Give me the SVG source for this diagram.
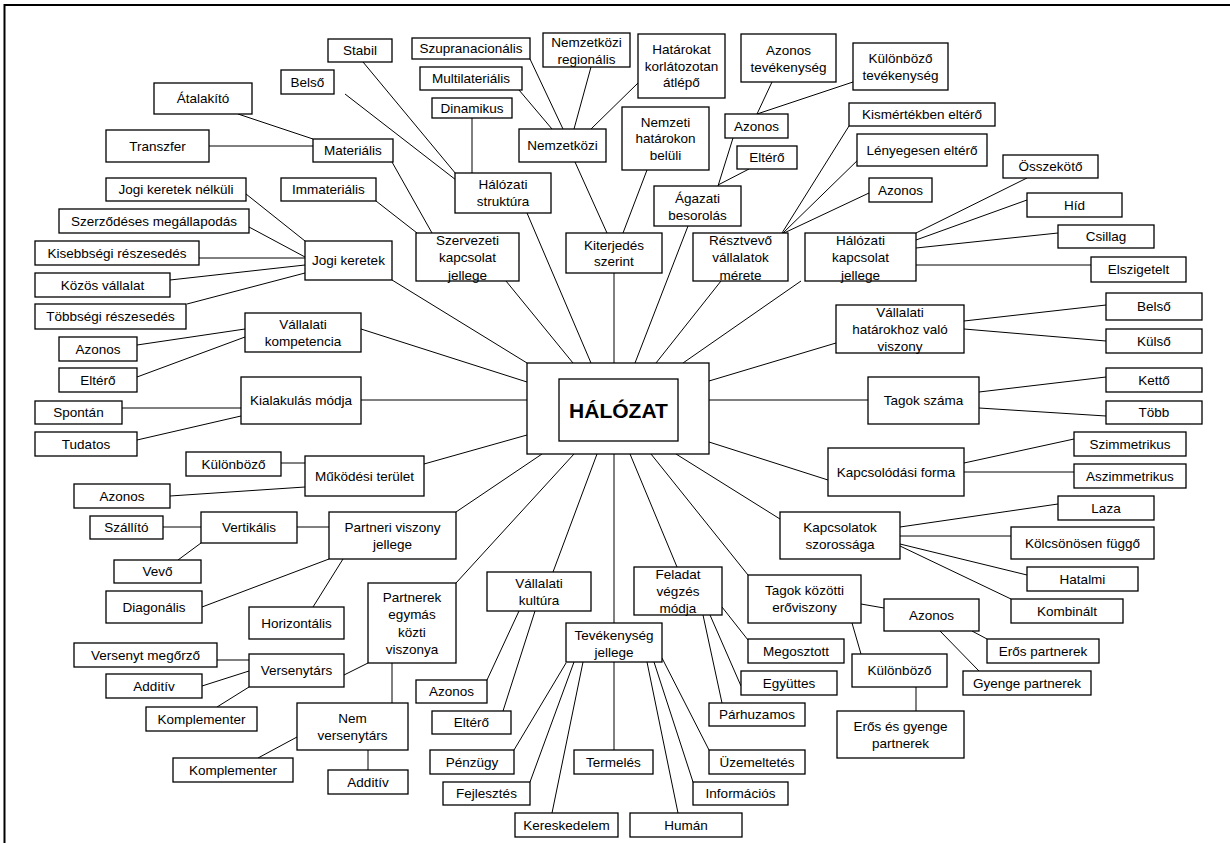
<svg xmlns="http://www.w3.org/2000/svg" width="1230" height="843" viewBox="0 0 1230 843">
<style>
rect{fill:#fff;stroke:#000;stroke-width:1.3}
text{font-family:"Liberation Sans",Arial,sans-serif;font-size:13.5px;fill:#000;text-anchor:middle}
#edges line{stroke:#000;stroke-width:1}
.frame{fill:none;stroke:#000;stroke-width:2}
.big{font-size:21px;font-weight:bold}
</style>
<rect x="0" y="0" width="1230" height="843" style="stroke:none"/>
<path class="frame" d="M4.5,843 V5 H1230"/>
<g id="edges">
<line x1="238" y1="114" x2="313" y2="139"/>
<line x1="209" y1="146" x2="313" y2="146"/>
<line x1="392" y1="162" x2="432" y2="233"/>
<line x1="363" y1="62" x2="456" y2="174"/>
<line x1="345" y1="94" x2="456" y2="180"/>
<line x1="376" y1="201" x2="417" y2="233"/>
<line x1="246" y1="194" x2="305" y2="241"/>
<line x1="249" y1="227" x2="305" y2="257"/>
<line x1="199" y1="258" x2="305" y2="258"/>
<line x1="170" y1="280" x2="305" y2="265"/>
<line x1="187" y1="304" x2="305" y2="273"/>
<line x1="392" y1="280" x2="527" y2="363"/>
<line x1="506" y1="281" x2="573" y2="363"/>
<line x1="527" y1="213" x2="591" y2="363"/>
<line x1="614" y1="273" x2="614" y2="363"/>
<line x1="688" y1="226" x2="635" y2="363"/>
<line x1="721" y1="281" x2="656" y2="363"/>
<line x1="801" y1="281" x2="683" y2="363"/>
<line x1="530" y1="59" x2="563" y2="129"/>
<line x1="519" y1="90" x2="552" y2="129"/>
<line x1="591" y1="67" x2="574" y2="129"/>
<line x1="638" y1="83" x2="591" y2="129"/>
<line x1="472" y1="118" x2="472" y2="173"/>
<line x1="575" y1="162" x2="607" y2="233"/>
<line x1="647" y1="170" x2="623" y2="233"/>
<line x1="772" y1="82" x2="757" y2="114"/>
<line x1="853" y1="82" x2="757" y2="114"/>
<line x1="733" y1="138" x2="718" y2="186"/>
<line x1="749" y1="169" x2="718" y2="185"/>
<line x1="849" y1="126" x2="782" y2="233"/>
<line x1="863" y1="155" x2="783" y2="233"/>
<line x1="869" y1="193" x2="784" y2="233"/>
<line x1="1027" y1="178" x2="916" y2="233"/>
<line x1="1027" y1="200" x2="916" y2="240"/>
<line x1="1058" y1="233" x2="916" y2="248"/>
<line x1="1091" y1="265" x2="916" y2="265"/>
<line x1="836" y1="343" x2="709" y2="381"/>
<line x1="964" y1="321" x2="1106" y2="305"/>
<line x1="964" y1="329" x2="1106" y2="341"/>
<line x1="868" y1="400" x2="709" y2="400"/>
<line x1="979" y1="392" x2="1106" y2="377"/>
<line x1="979" y1="408" x2="1106" y2="416"/>
<line x1="828" y1="480" x2="709" y2="442"/>
<line x1="964" y1="463" x2="1074" y2="439"/>
<line x1="964" y1="472" x2="1074" y2="472"/>
<line x1="780" y1="519" x2="676" y2="454"/>
<line x1="900" y1="527" x2="1058" y2="504"/>
<line x1="900" y1="536" x2="1011" y2="536"/>
<line x1="900" y1="544" x2="1027" y2="575"/>
<line x1="900" y1="546" x2="1011" y2="599"/>
<line x1="651" y1="454" x2="748" y2="575"/>
<line x1="630" y1="454" x2="677" y2="567"/>
<line x1="614" y1="454" x2="614" y2="623"/>
<line x1="597" y1="454" x2="553" y2="572"/>
<line x1="574" y1="454" x2="456" y2="583"/>
<line x1="542" y1="454" x2="456" y2="512"/>
<line x1="361" y1="329" x2="527" y2="382"/>
<line x1="361" y1="400" x2="527" y2="400"/>
<line x1="424" y1="464" x2="527" y2="435"/>
<line x1="861" y1="604" x2="884" y2="608"/>
<line x1="852" y1="623" x2="861" y2="654"/>
<line x1="972" y1="631" x2="987" y2="639"/>
<line x1="940" y1="631" x2="979" y2="671"/>
<line x1="916" y1="687" x2="916" y2="711"/>
<line x1="722" y1="607" x2="748" y2="640"/>
<line x1="710" y1="615" x2="741" y2="686"/>
<line x1="703" y1="615" x2="722" y2="703"/>
<line x1="566" y1="663" x2="514" y2="750"/>
<line x1="574" y1="662" x2="530" y2="782"/>
<line x1="583" y1="662" x2="552" y2="813"/>
<line x1="614" y1="662" x2="614" y2="750"/>
<line x1="647" y1="662" x2="678" y2="813"/>
<line x1="654" y1="662" x2="693" y2="782"/>
<line x1="662" y1="658" x2="709" y2="750"/>
<line x1="519" y1="611" x2="487" y2="680"/>
<line x1="535" y1="611" x2="503" y2="711"/>
<line x1="137" y1="345" x2="245" y2="329"/>
<line x1="137" y1="377" x2="245" y2="337"/>
<line x1="122" y1="408" x2="241" y2="408"/>
<line x1="137" y1="440" x2="241" y2="416"/>
<line x1="281" y1="463" x2="305" y2="463"/>
<line x1="170" y1="496" x2="305" y2="487"/>
<line x1="163" y1="527" x2="201" y2="527"/>
<line x1="297" y1="527" x2="329" y2="527"/>
<line x1="201" y1="543" x2="178" y2="560"/>
<line x1="202" y1="607" x2="329" y2="559"/>
<line x1="313" y1="607" x2="343" y2="559"/>
<line x1="217" y1="660" x2="249" y2="660"/>
<line x1="202" y1="686" x2="249" y2="671"/>
<line x1="217" y1="707" x2="249" y2="687"/>
<line x1="344" y1="675" x2="368" y2="663"/>
<line x1="392" y1="663" x2="392" y2="703"/>
<line x1="297" y1="737" x2="258" y2="758"/>
<line x1="368" y1="750" x2="368" y2="770"/>
</g>
<g id="halozat"><rect x="527" y="363" width="182" height="91"/><rect x="559" y="379" width="119" height="62"/><text class="big" x="618.5" y="417.5">HÁLÓZAT</text></g>
<g id="stabil"><rect x="328" y="39" width="64" height="23"/><text x="360" y="55.3">Stabil</text></g>
<g id="belso1"><rect x="281" y="70" width="53" height="24"/><text x="307.5" y="86.8">Belső</text></g>
<g id="atalakito"><rect x="154" y="83" width="98" height="31"/><text x="203" y="103.3">Átalakító</text></g>
<g id="transzfer"><rect x="106" y="130" width="103" height="32"/><text x="157.5" y="150.8">Transzfer</text></g>
<g id="materialis"><rect x="313" y="139" width="80" height="23"/><text x="353" y="155.3">Materiális</text></g>
<g id="jogi-nelkuli"><rect x="106" y="178" width="140" height="23"/><text x="176" y="194.3">Jogi keretek nélküli</text></g>
<g id="immaterialis"><rect x="281" y="178" width="95" height="23"/><text x="328.5" y="194.3">Immateriális</text></g>
<g id="szerzodeses"><rect x="59" y="209" width="190" height="24"/><text x="154" y="225.8">Szerződéses megállapodás</text></g>
<g id="kisebbsegi"><rect x="35" y="241" width="164" height="24"/><text x="117" y="257.8">Kisebbségi részesedés</text></g>
<g id="jogi"><rect x="305" y="241" width="87" height="39"/><text x="348.5" y="265.3">Jogi keretek</text></g>
<g id="kozos"><rect x="35" y="273" width="135" height="24"/><text x="102.5" y="289.8">Közös vállalat</text></g>
<g id="tobbsegi"><rect x="35" y="304" width="151" height="25"/><text x="110.5" y="321.3">Többségi részesedés</text></g>
<g id="vall-komp"><rect x="245" y="313" width="116" height="39"/><text x="303" y="329.3">Vállalati</text><text x="303" y="346.3">kompetencia</text></g>
<g id="azonos-komp"><rect x="59" y="337" width="78" height="24"/><text x="98" y="353.8">Azonos</text></g>
<g id="eltero-komp"><rect x="59" y="368" width="78" height="24"/><text x="98" y="384.8">Eltérő</text></g>
<g id="kialakulas"><rect x="241" y="377" width="120" height="47"/><text x="301" y="405.3">Kialakulás módja</text></g>
<g id="spontan"><rect x="35" y="401" width="87" height="23"/><text x="78.5" y="417.3">Spontán</text></g>
<g id="tudatos"><rect x="35" y="432" width="102" height="24"/><text x="86" y="448.8">Tudatos</text></g>
<g id="kulonbozo-mk"><rect x="186" y="452" width="95" height="24"/><text x="233.5" y="468.8">Különböző</text></g>
<g id="mukodesi"><rect x="305" y="456" width="119" height="40"/><text x="364.5" y="480.8">Működési terület</text></g>
<g id="azonos-mk"><rect x="74" y="484" width="96" height="24"/><text x="122" y="500.8">Azonos</text></g>
<g id="szallito"><rect x="90" y="516" width="73" height="23"/><text x="126.5" y="532.3">Szállító</text></g>
<g id="vertikalis"><rect x="201" y="512" width="96" height="31"/><text x="249" y="532.3">Vertikális</text></g>
<g id="partneri"><rect x="329" y="512" width="127" height="47"/><text x="392.5" y="531.8">Partneri viszony</text><text x="392.5" y="548.8">jellege</text></g>
<g id="vevo"><rect x="114" y="560" width="87" height="23"/><text x="157.5" y="576.3">Vevő</text></g>
<g id="diagonalis"><rect x="106" y="591" width="96" height="32"/><text x="154" y="611.8">Diagonális</text></g>
<g id="horizontalis"><rect x="249" y="607" width="95" height="32"/><text x="296.5" y="627.8">Horizontális</text></g>
<g id="partnerek"><rect x="368" y="583" width="88" height="80"/><text x="412" y="601.5">Partnerek</text><text x="412" y="619">egymás</text><text x="412" y="636.5">közti</text><text x="412" y="654">viszonya</text></g>
<g id="versenyt-megorzo"><rect x="74" y="643" width="143" height="24"/><text x="145.5" y="659.8">Versenyt megőrző</text></g>
<g id="versenytars"><rect x="249" y="654" width="95" height="33"/><text x="296.5" y="675.3">Versenytárs</text></g>
<g id="additiv1"><rect x="106" y="674" width="96" height="24"/><text x="154" y="690.8">Additív</text></g>
<g id="komplementer1"><rect x="146" y="707" width="111" height="24"/><text x="201.5" y="723.8">Komplementer</text></g>
<g id="nem-versenytars"><rect x="297" y="703" width="111" height="47"/><text x="352.5" y="722.8">Nem</text><text x="352.5" y="739.8">versenytárs</text></g>
<g id="komplementer2"><rect x="173" y="758" width="120" height="24"/><text x="233" y="774.8">Komplementer</text></g>
<g id="additiv2"><rect x="328" y="770" width="80" height="24"/><text x="368" y="786.8">Additív</text></g>
<g id="szupranacionalis"><rect x="412" y="38" width="118" height="21"/><text x="471" y="53.3">Szupranacionális</text></g>
<g id="multilateralis"><rect x="420" y="67" width="102" height="23"/><text x="471" y="83.3">Multilateriális</text></g>
<g id="dinamikus"><rect x="432" y="98" width="80" height="20"/><text x="472" y="112.8">Dinamikus</text></g>
<g id="nemz-regionalis"><rect x="543" y="33" width="87" height="34"/><text x="586.5" y="47.3">Nemzetközi</text><text x="586.5" y="64.3">regionális</text></g>
<g id="hatarokat"><rect x="638" y="34" width="87" height="64"/><text x="681.5" y="54.3">Határokat</text><text x="681.5" y="70.8">korlátozotan</text><text x="681.5" y="87.3">átlépő</text></g>
<g id="nemzetkozi"><rect x="519" y="129" width="87" height="33"/><text x="562.5" y="150.3">Nemzetközi</text></g>
<g id="nemzeti-belul"><rect x="622" y="107" width="87" height="63"/><text x="665.5" y="126.8">Nemzeti</text><text x="665.5" y="143.3">határokon</text><text x="665.5" y="159.8">belüli</text></g>
<g id="halozati-struktura"><rect x="455" y="173" width="96" height="40"/><text x="503" y="189.3">Hálózati</text><text x="503" y="206.3">struktúra</text></g>
<g id="szervezeti"><rect x="416" y="233" width="103" height="48"/><text x="467.5" y="244.8">Szervezeti</text><text x="467.5" y="262.3">kapcsolat</text><text x="467.5" y="279.8">jellege</text></g>
<g id="kiterjedes"><rect x="566" y="233" width="96" height="40"/><text x="614" y="249.8">Kiterjedés</text><text x="614" y="266.3">szerint</text></g>
<g id="azonos-tev"><rect x="741" y="34" width="95" height="48"/><text x="788.5" y="54.8">Azonos</text><text x="788.5" y="71.8">tevékenység</text></g>
<g id="kulonbozo-tev"><rect x="853" y="43" width="95" height="47"/><text x="900.5" y="62.8">Különböző</text><text x="900.5" y="79.8">tevékenység</text></g>
<g id="azonos-ag"><rect x="725" y="114" width="63" height="24"/><text x="756.5" y="130.8">Azonos</text></g>
<g id="eltero-ag"><rect x="737" y="146" width="60" height="23"/><text x="767" y="162.3">Eltérő</text></g>
<g id="agazati"><rect x="654" y="186" width="87" height="40"/><text x="697.5" y="202.8">Ágazati</text><text x="697.5" y="219.8">besorolás</text></g>
<g id="resztvevo"><rect x="693" y="233" width="95" height="48"/><text x="740.5" y="244.8">Résztvevő</text><text x="740.5" y="262.3">vállalatok</text><text x="740.5" y="279.8">mérete</text></g>
<g id="kismertekben"><rect x="849" y="103" width="146" height="23"/><text x="922" y="119.3">Kismértékben eltérő</text></g>
<g id="lenyegesen"><rect x="857" y="134" width="130" height="32"/><text x="922" y="154.8">Lényegesen eltérő</text></g>
<g id="azonos-meret"><rect x="869" y="178" width="63" height="24"/><text x="900.5" y="194.8">Azonos</text></g>
<g id="halozati-kapcsolat"><rect x="805" y="233" width="111" height="48"/><text x="860.5" y="244.8">Hálózati</text><text x="860.5" y="262.3">kapcsolat</text><text x="860.5" y="279.8">jellege</text></g>
<g id="osszekoto"><rect x="1003" y="155" width="95" height="23"/><text x="1050.5" y="171.3">Összekötő</text></g>
<g id="hid"><rect x="1027" y="193" width="95" height="24"/><text x="1074.5" y="209.8">Híd</text></g>
<g id="csillag"><rect x="1058" y="225" width="96" height="23"/><text x="1106" y="241.3">Csillag</text></g>
<g id="elszigetelt"><rect x="1091" y="257" width="95" height="25"/><text x="1138.5" y="274.3">Elszigetelt</text></g>
<g id="vall-hatar"><rect x="836" y="305" width="128" height="48"/><text x="900" y="316.8">Vállalati</text><text x="900" y="333.8">határokhoz való</text><text x="900" y="350.8">viszony</text></g>
<g id="belso2"><rect x="1106" y="293" width="96" height="27"/><text x="1154" y="311.3">Belső</text></g>
<g id="kulso"><rect x="1106" y="329" width="96" height="24"/><text x="1154" y="345.8">Külső</text></g>
<g id="tagok-szama"><rect x="868" y="377" width="111" height="47"/><text x="923.5" y="405.3">Tagok száma</text></g>
<g id="ketto"><rect x="1106" y="368" width="96" height="24"/><text x="1154" y="384.8">Kettő</text></g>
<g id="tobb"><rect x="1106" y="401" width="96" height="23"/><text x="1154" y="417.3">Több</text></g>
<g id="kapcsolodasi"><rect x="828" y="448" width="136" height="48"/><text x="896" y="476.8">Kapcsolódási forma</text></g>
<g id="szimmetrikus"><rect x="1074" y="432" width="112" height="24"/><text x="1130" y="448.8">Szimmetrikus</text></g>
<g id="aszimmetrikus"><rect x="1074" y="464" width="112" height="24"/><text x="1130" y="480.8">Aszimmetrikus</text></g>
<g id="kapcsolatok-szor"><rect x="780" y="512" width="120" height="47"/><text x="840" y="531.8">Kapcsolatok</text><text x="840" y="549.3">szorossága</text></g>
<g id="laza"><rect x="1058" y="496" width="96" height="24"/><text x="1106" y="512.8">Laza</text></g>
<g id="kolcsonosen"><rect x="1011" y="527" width="143" height="32"/><text x="1082.5" y="547.8">Kölcsönösen függő</text></g>
<g id="hatalmi"><rect x="1027" y="567" width="111" height="24"/><text x="1082.5" y="583.8">Hatalmi</text></g>
<g id="kombinalt"><rect x="1011" y="599" width="112" height="24"/><text x="1067" y="615.8">Kombinált</text></g>
<g id="tagok-kozotti"><rect x="748" y="575" width="113" height="48"/><text x="804.5" y="595.3">Tagok közötti</text><text x="804.5" y="612.3">erőviszony</text></g>
<g id="azonos-ero"><rect x="884" y="599" width="95" height="32"/><text x="931.5" y="619.8">Azonos</text></g>
<g id="eros"><rect x="987" y="639" width="112" height="24"/><text x="1043" y="655.8">Erős partnerek</text></g>
<g id="gyenge"><rect x="963" y="671" width="128" height="24"/><text x="1027" y="687.8">Gyenge partnerek</text></g>
<g id="kulonbozo-ero"><rect x="852" y="654" width="95" height="33"/><text x="899.5" y="675.3">Különböző</text></g>
<g id="eros-gyenge"><rect x="837" y="711" width="127" height="47"/><text x="900.5" y="731.3">Erős és gyenge</text><text x="900.5" y="748.3">partnerek</text></g>
<g id="vall-kultura"><rect x="487" y="572" width="104" height="39"/><text x="539" y="587.8">Vállalati</text><text x="539" y="604.8">kultúra</text></g>
<g id="tevekenyseg"><rect x="566" y="623" width="96" height="39"/><text x="614" y="639.8">Tevékenység</text><text x="614" y="656.8">jellege</text></g>
<g id="feladat"><rect x="634" y="567" width="88" height="48"/><text x="678" y="578.8">Feladat</text><text x="678" y="595.8">végzés</text><text x="678" y="612.8">módja</text></g>
<g id="megosztott"><rect x="748" y="639" width="96" height="24"/><text x="796" y="655.8">Megosztott</text></g>
<g id="egyuttes"><rect x="741" y="671" width="96" height="24"/><text x="789" y="687.8">Együttes</text></g>
<g id="parhuzamos"><rect x="709" y="703" width="96" height="23"/><text x="757" y="719.3">Párhuzamos</text></g>
<g id="azonos-kult"><rect x="416" y="680" width="71" height="23"/><text x="451.5" y="696.3">Azonos</text></g>
<g id="eltero-kult"><rect x="432" y="711" width="79" height="23"/><text x="471.5" y="727.3">Eltérő</text></g>
<g id="penzugy"><rect x="430" y="750" width="84" height="24"/><text x="472" y="766.8">Pénzügy</text></g>
<g id="termeles"><rect x="574" y="750" width="79" height="24"/><text x="613.5" y="766.8">Termelés</text></g>
<g id="uzemeltetes"><rect x="709" y="750" width="96" height="24"/><text x="757" y="766.8">Üzemeltetés</text></g>
<g id="fejlesztes"><rect x="443" y="782" width="87" height="23"/><text x="486.5" y="798.3">Fejlesztés</text></g>
<g id="informacios"><rect x="693" y="782" width="95" height="23"/><text x="740.5" y="798.3">Információs</text></g>
<g id="kereskedelem"><rect x="515" y="813" width="103" height="24"/><text x="566.5" y="829.8">Kereskedelem</text></g>
<g id="human"><rect x="630" y="813" width="112" height="24"/><text x="686" y="829.8">Humán</text></g>
</svg>
